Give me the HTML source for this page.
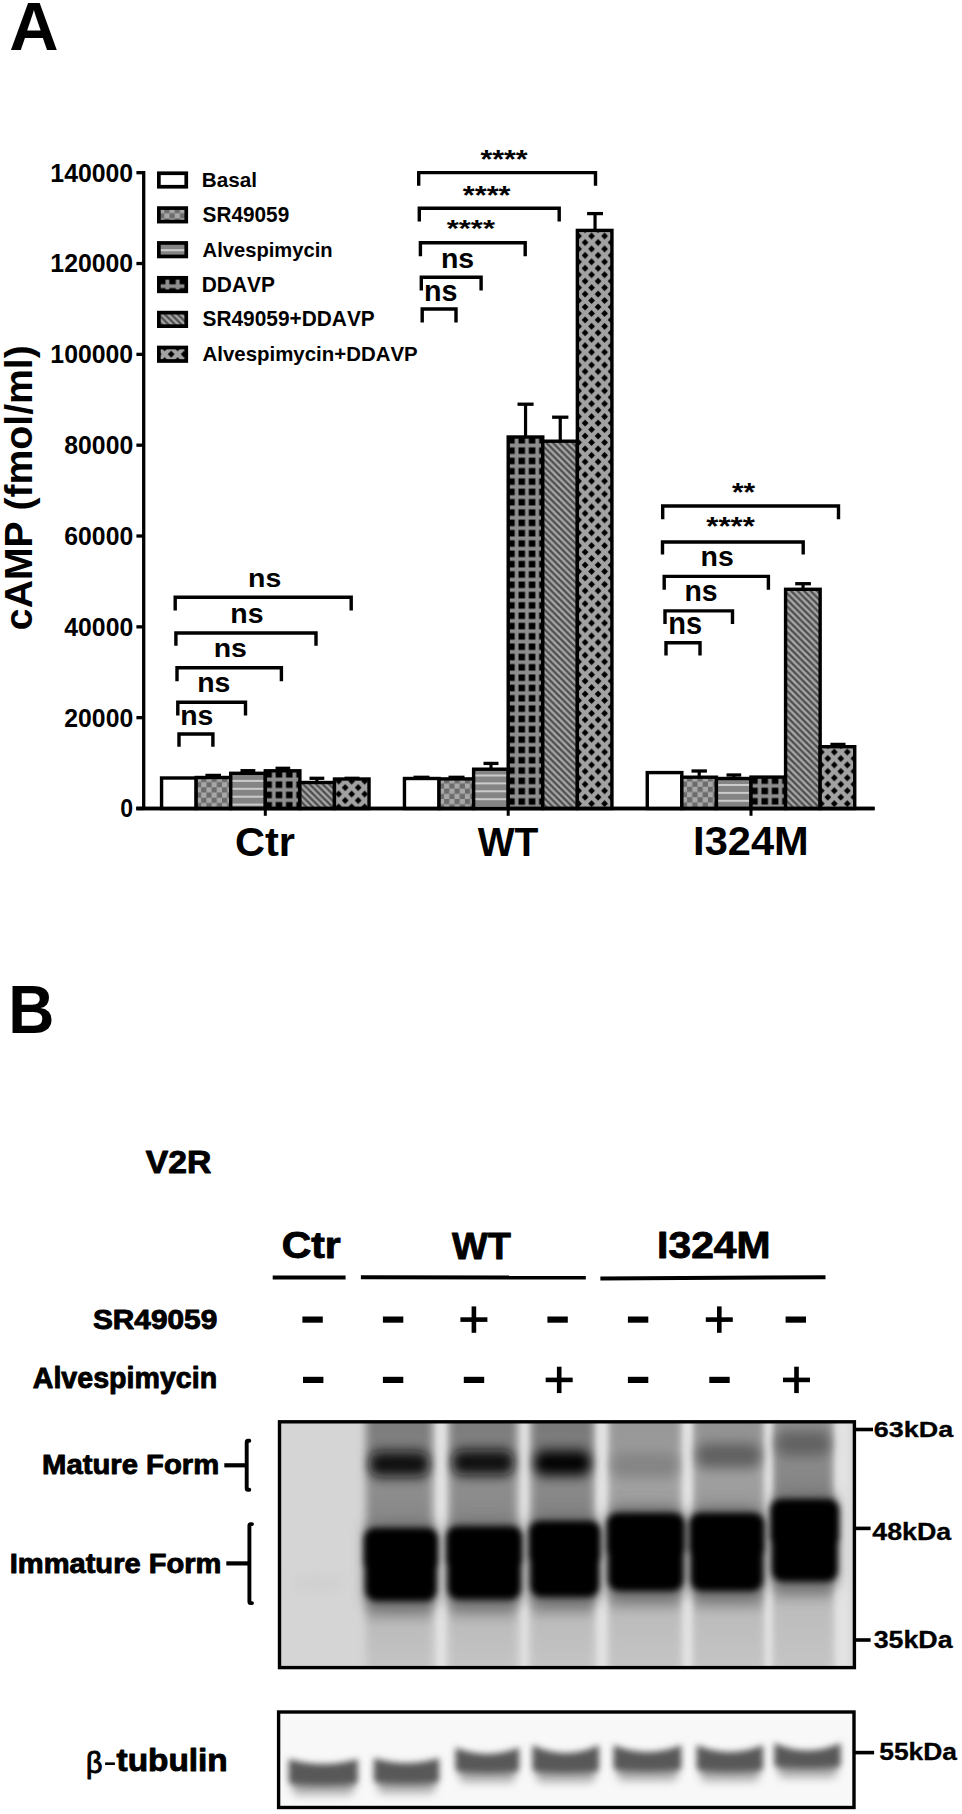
<!DOCTYPE html>
<html><head><meta charset="utf-8"><style>
html,body{margin:0;padding:0;background:#fff;overflow:hidden;}
svg{display:block;}
text{font-family:"Liberation Sans", sans-serif;font-kerning:none;}
</style></head><body>
<svg width="962" height="1814" viewBox="0 0 962 1814">
<defs>
<pattern id="pChk" patternUnits="userSpaceOnUse" width="10.4" height="10.4" x="0" y="0">
  <rect width="10.4" height="10.4" fill="#a7a7a7"/>
  <rect width="5.2" height="5.2" fill="#6c6c6c"/><rect x="5.2" y="5.2" width="5.2" height="5.2" fill="#6c6c6c"/>
</pattern>
<pattern id="pHor" patternUnits="userSpaceOnUse" width="10" height="7.9" x="0" y="0">
  <rect width="10" height="7.9" fill="#848484"/>
  <rect y="0" width="10" height="2.0" fill="#cbcbcb"/>
</pattern>
<pattern id="pGrid" patternUnits="userSpaceOnUse" width="10.32" height="10.32" x="0" y="0">
  <rect width="10.32" height="10.32" fill="#000"/>
  <rect x="3.26" width="3.8" height="10.32" fill="#8e8e8e"/>
  <rect y="3.26" width="10.32" height="3.8" fill="#8e8e8e"/>
</pattern>
<pattern id="pDiag" patternUnits="userSpaceOnUse" width="6.5" height="6.5" x="0" y="0">
  <rect width="6.5" height="6.5" fill="#a8a8a8"/>
  <path d="M-2,-2 L8.5,8.5 M-2,4.5 L2,8.5 M4.5,-2 L8.5,2" stroke="#4e4e4e" stroke-width="2.35"/>
</pattern>
<pattern id="pX" patternUnits="userSpaceOnUse" width="13.0" height="12.9" x="0" y="0">
  <rect width="13.0" height="12.9" fill="#a2a2a2"/>
  <path d="M0,-3.4 L3.4,0 L0,3.4 L-3.4,0Z M13.0,-3.4 L16.4,0 L13.0,3.4 L9.6,0Z M0,9.5 L3.4,12.9 L0,16.3 L-3.4,12.9Z M13.0,9.5 L16.4,12.9 L13.0,16.3 L9.6,12.9Z M6.5,3.0500000000000003 L9.9,6.45 L6.5,9.85 L3.1,6.45Z " fill="#000"/>
</pattern>
<pattern id="pGrid0" patternUnits="userSpaceOnUse" width="10.32" height="10.32" x="0.32" y="0.34">
  <rect width="10.32" height="10.32" fill="#000"/>
  <rect x="3.26" width="3.8" height="10.32" fill="#8e8e8e"/>
  <rect y="3.26" width="10.32" height="3.8" fill="#8e8e8e"/>
</pattern><pattern id="pGrid1" patternUnits="userSpaceOnUse" width="10.32" height="10.32" x="5.76" y="6.88">
  <rect width="10.32" height="10.32" fill="#000"/>
  <rect x="3.26" width="3.8" height="10.32" fill="#8e8e8e"/>
  <rect y="3.26" width="10.32" height="3.8" fill="#8e8e8e"/>
</pattern><pattern id="pGrid2" patternUnits="userSpaceOnUse" width="10.32" height="10.32" x="1.08" y="6.64">
  <rect width="10.32" height="10.32" fill="#000"/>
  <rect x="3.26" width="3.8" height="10.32" fill="#8e8e8e"/>
  <rect y="3.26" width="10.32" height="3.8" fill="#8e8e8e"/>
</pattern><pattern id="pX0" patternUnits="userSpaceOnUse" width="13.0" height="12.9" x="7.2" y="0.7">
  <rect width="13.0" height="12.9" fill="#a2a2a2"/>
  <path d="M0,-3.4 L3.4,0 L0,3.4 L-3.4,0Z M13.0,-3.4 L16.4,0 L13.0,3.4 L9.6,0Z M0,9.5 L3.4,12.9 L0,16.3 L-3.4,12.9Z M13.0,9.5 L16.4,12.9 L13.0,16.3 L9.6,12.9Z M6.5,3.0500000000000003 L9.9,6.45 L6.5,9.85 L3.1,6.45Z " fill="#000"/>
</pattern><pattern id="pX1" patternUnits="userSpaceOnUse" width="13.0" height="12.9" x="0.1" y="10.3">
  <rect width="13.0" height="12.9" fill="#a2a2a2"/>
  <path d="M0,-3.4 L3.4,0 L0,3.4 L-3.4,0Z M13.0,-3.4 L16.4,0 L13.0,3.4 L9.6,0Z M0,9.5 L3.4,12.9 L0,16.3 L-3.4,12.9Z M13.0,9.5 L16.4,12.9 L13.0,16.3 L9.6,12.9Z M6.5,3.0500000000000003 L9.9,6.45 L6.5,9.85 L3.1,6.45Z " fill="#000"/>
</pattern><pattern id="pX2" patternUnits="userSpaceOnUse" width="13.0" height="12.9" x="8.8" y="10.3">
  <rect width="13.0" height="12.9" fill="#a2a2a2"/>
  <path d="M0,-3.4 L3.4,0 L0,3.4 L-3.4,0Z M13.0,-3.4 L16.4,0 L13.0,3.4 L9.6,0Z M0,9.5 L3.4,12.9 L0,16.3 L-3.4,12.9Z M13.0,9.5 L16.4,12.9 L13.0,16.3 L9.6,12.9Z M6.5,3.0500000000000003 L9.9,6.45 L6.5,9.85 L3.1,6.45Z " fill="#000"/>
</pattern><pattern id="pHorL" patternUnits="userSpaceOnUse" width="10" height="7.9" x="0" y="4.3">
  <rect width="10" height="7.9" fill="#848484"/>
  <rect y="0" width="10" height="2.0" fill="#cbcbcb"/>
</pattern><pattern id="pHor0" patternUnits="userSpaceOnUse" width="10" height="7.9" x="0" y="5.7">
  <rect width="10" height="7.9" fill="#848484"/>
  <rect y="0" width="10" height="2.0" fill="#cbcbcb"/>
</pattern><pattern id="pHor1" patternUnits="userSpaceOnUse" width="10" height="7.9" x="0" y="0.3">
  <rect width="10" height="7.9" fill="#848484"/>
  <rect y="0" width="10" height="2.0" fill="#cbcbcb"/>
</pattern><pattern id="pHor2" patternUnits="userSpaceOnUse" width="10" height="7.9" x="0" y="1.9">
  <rect width="10" height="7.9" fill="#848484"/>
  <rect y="0" width="10" height="2.0" fill="#cbcbcb"/>
</pattern><pattern id="pChk0" patternUnits="userSpaceOnUse" width="10.4" height="10.4" x="3.6" y="7.3">
  <rect width="10.4" height="10.4" fill="#a7a7a7"/>
  <rect width="5.2" height="5.2" fill="#6c6c6c"/><rect x="5.2" y="5.2" width="5.2" height="5.2" fill="#6c6c6c"/>
</pattern><pattern id="pChk1" patternUnits="userSpaceOnUse" width="10.4" height="10.4" x="7.3" y="8.6">
  <rect width="10.4" height="10.4" fill="#a7a7a7"/>
  <rect width="5.2" height="5.2" fill="#6c6c6c"/><rect x="5.2" y="5.2" width="5.2" height="5.2" fill="#6c6c6c"/>
</pattern><pattern id="pChk2" patternUnits="userSpaceOnUse" width="10.4" height="10.4" x="0.7" y="6.8">
  <rect width="10.4" height="10.4" fill="#a7a7a7"/>
  <rect width="5.2" height="5.2" fill="#6c6c6c"/><rect x="5.2" y="5.2" width="5.2" height="5.2" fill="#6c6c6c"/>
</pattern><pattern id="pDiag0" patternUnits="userSpaceOnUse" width="6.5" height="6.5" x="0" y="0">
  <rect width="6.5" height="6.5" fill="#a8a8a8"/>
  <path d="M-2,-2 L8.5,8.5 M-2,4.5 L2,8.5 M4.5,-2 L8.5,2" stroke="#4e4e4e" stroke-width="2.35"/>
</pattern><pattern id="pDiag1" patternUnits="userSpaceOnUse" width="6.5" height="6.5" x="0" y="0.4">
  <rect width="6.5" height="6.5" fill="#a8a8a8"/>
  <path d="M-2,-2 L8.5,8.5 M-2,4.5 L2,8.5 M4.5,-2 L8.5,2" stroke="#4e4e4e" stroke-width="2.35"/>
</pattern><pattern id="pDiag2" patternUnits="userSpaceOnUse" width="6.5" height="6.5" x="0" y="1.3">
  <rect width="6.5" height="6.5" fill="#a8a8a8"/>
  <path d="M-2,-2 L8.5,8.5 M-2,4.5 L2,8.5 M4.5,-2 L8.5,2" stroke="#4e4e4e" stroke-width="2.35"/>
</pattern><pattern id="pGridL" patternUnits="userSpaceOnUse" width="10.32" height="10.32" x="7.44" y="2.4">
  <rect width="10.32" height="10.32" fill="#000"/>
  <rect x="3.26" width="3.8" height="10.32" fill="#8e8e8e"/>
  <rect y="3.26" width="10.32" height="3.8" fill="#8e8e8e"/>
</pattern><pattern id="pXL" patternUnits="userSpaceOnUse" width="13.0" height="12.9" x="2.2" y="5.9">
  <rect width="13.0" height="12.9" fill="#a2a2a2"/>
  <path d="M0,-3.4 L3.4,0 L0,3.4 L-3.4,0Z M13.0,-3.4 L16.4,0 L13.0,3.4 L9.6,0Z M0,9.5 L3.4,12.9 L0,16.3 L-3.4,12.9Z M13.0,9.5 L16.4,12.9 L13.0,16.3 L9.6,12.9Z M6.5,3.0500000000000003 L9.9,6.45 L6.5,9.85 L3.1,6.45Z " fill="#000"/>
</pattern><pattern id="pChkL" patternUnits="userSpaceOnUse" width="10.4" height="10.4" x="8.3" y="0">
  <rect width="10.4" height="10.4" fill="#a7a7a7"/>
  <rect width="5.2" height="5.2" fill="#6c6c6c"/><rect x="5.2" y="5.2" width="5.2" height="5.2" fill="#6c6c6c"/>
</pattern>
<filter id="fSmear" x="-20%" y="-20%" width="140%" height="140%"><feGaussianBlur stdDeviation="4.5 3"/></filter>
<filter id="fGap" x="-100%" y="-10%" width="300%" height="120%"><feGaussianBlur stdDeviation="2.5 1"/></filter>
<filter id="fHalo" x="-30%" y="-30%" width="160%" height="160%"><feGaussianBlur stdDeviation="7"/></filter>
<filter id="fMat" x="-30%" y="-100%" width="160%" height="300%"><feGaussianBlur stdDeviation="5.5 6.5"/></filter>
<filter id="fImm" x="-20%" y="-20%" width="140%" height="140%"><feGaussianBlur stdDeviation="3.2"/></filter>
<filter id="fTub" x="-20%" y="-100%" width="140%" height="300%"><feGaussianBlur stdDeviation="3 3.4"/></filter>
<filter id="fTubTail" x="-20%" y="-100%" width="140%" height="300%"><feGaussianBlur stdDeviation="4 5"/></filter>
<linearGradient id="gL0" x1="0" y1="0" x2="0" y2="1"><stop offset="0.0000" stop-color="rgb(124,124,124)"/><stop offset="0.1211" stop-color="rgb(128,128,128)"/><stop offset="0.2716" stop-color="rgb(142,142,142)"/><stop offset="0.3807" stop-color="rgb(138,138,138)"/><stop offset="0.7419" stop-color="rgb(150,150,150)"/><stop offset="0.8059" stop-color="rgb(188,188,188)"/><stop offset="1.0000" stop-color="rgb(198,198,198)"/></linearGradient><linearGradient id="gL1" x1="0" y1="0" x2="0" y2="1"><stop offset="0.0000" stop-color="rgb(124,124,124)"/><stop offset="0.1155" stop-color="rgb(128,128,128)"/><stop offset="0.2660" stop-color="rgb(142,142,142)"/><stop offset="0.3740" stop-color="rgb(138,138,138)"/><stop offset="0.7363" stop-color="rgb(150,150,150)"/><stop offset="0.8002" stop-color="rgb(188,188,188)"/><stop offset="1.0000" stop-color="rgb(198,198,198)"/></linearGradient><linearGradient id="gL2" x1="0" y1="0" x2="0" y2="1"><stop offset="0.0000" stop-color="rgb(120,120,120)"/><stop offset="0.1174" stop-color="rgb(124,124,124)"/><stop offset="0.2679" stop-color="rgb(138,138,138)"/><stop offset="0.3544" stop-color="rgb(134,134,134)"/><stop offset="0.7269" stop-color="rgb(150,150,150)"/><stop offset="0.7908" stop-color="rgb(188,188,188)"/><stop offset="1.0000" stop-color="rgb(198,198,198)"/></linearGradient><linearGradient id="gL3" x1="0" y1="0" x2="0" y2="1"><stop offset="0.0000" stop-color="rgb(150,150,150)"/><stop offset="0.1249" stop-color="rgb(154,154,154)"/><stop offset="0.2754" stop-color="rgb(162,162,162)"/><stop offset="0.3243" stop-color="rgb(158,158,158)"/><stop offset="0.7043" stop-color="rgb(150,150,150)"/><stop offset="0.7682" stop-color="rgb(188,188,188)"/><stop offset="1.0000" stop-color="rgb(198,198,198)"/></linearGradient><linearGradient id="gL4" x1="0" y1="0" x2="0" y2="1"><stop offset="0.0000" stop-color="rgb(145,145,145)"/><stop offset="0.0892" stop-color="rgb(149,149,149)"/><stop offset="0.2397" stop-color="rgb(160,160,160)"/><stop offset="0.3243" stop-color="rgb(156,156,156)"/><stop offset="0.7043" stop-color="rgb(150,150,150)"/><stop offset="0.7682" stop-color="rgb(188,188,188)"/><stop offset="1.0000" stop-color="rgb(198,198,198)"/></linearGradient><linearGradient id="gL5" x1="0" y1="0" x2="0" y2="1"><stop offset="0.0000" stop-color="rgb(140,140,140)"/><stop offset="0.0440" stop-color="rgb(144,144,144)"/><stop offset="0.1945" stop-color="rgb(138,138,138)"/><stop offset="0.2716" stop-color="rgb(134,134,134)"/><stop offset="0.6685" stop-color="rgb(150,150,150)"/><stop offset="0.7325" stop-color="rgb(188,188,188)"/><stop offset="1.0000" stop-color="rgb(198,198,198)"/></linearGradient></defs>
<rect width="962" height="1814" fill="#fff"/>
<clipPath id="cBlot"><rect x="279.5" y="1421.8" width="574.9" height="245.79999999999995"/></clipPath>
<rect x="279.5" y="1421.8" width="574.9" height="245.79999999999995" fill="#d5d5d5"/>
<g clip-path="url(#cBlot)">
<g filter="url(#fSmear)">
<rect x="366.0" y="1411.8" width="66.5" height="265.79999999999995" fill="url(#gL0)"/>
<rect x="449.0" y="1411.8" width="68.0" height="265.79999999999995" fill="url(#gL1)"/>
<rect x="531.0" y="1411.8" width="63.0" height="265.79999999999995" fill="url(#gL2)"/>
<rect x="608.5" y="1411.8" width="72.5" height="265.79999999999995" fill="url(#gL3)"/>
<rect x="693.0" y="1411.8" width="71.0" height="265.79999999999995" fill="url(#gL4)"/>
<rect x="772.7" y="1411.8" width="60.299999999999955" height="265.79999999999995" fill="url(#gL5)"/>
</g>
<g filter="url(#fGap)">
<rect x="437.0" y="1411.8" width="8" height="265.79999999999995" fill="#e2e2e2"/>
<rect x="522.0" y="1411.8" width="5" height="265.79999999999995" fill="#e2e2e2"/>
<rect x="597.5" y="1411.8" width="9" height="265.79999999999995" fill="#e2e2e2"/>
<rect x="683.5" y="1411.8" width="8" height="265.79999999999995" fill="#e2e2e2"/>
<rect x="765.5" y="1411.8" width="6" height="265.79999999999995" fill="#e2e2e2"/>
<rect x="836.0" y="1411.8" width="14" height="265.79999999999995" fill="#e2e2e2"/>
</g>
<g filter="url(#fHalo)">
<rect x="366.0" y="1522.0" width="70.0" height="87.0" rx="12" fill="#6a6a6a"/>
<rect x="448.4" y="1520.2" width="71.80000000000007" height="87.29999999999995" rx="12" fill="#6a6a6a"/>
<rect x="531.0" y="1515.0" width="67.5" height="90.0" rx="12" fill="#6a6a6a"/>
<rect x="608.8" y="1507.0" width="73.90000000000009" height="92.0" rx="12" fill="#6a6a6a"/>
<rect x="691.4" y="1507.0" width="70.80000000000007" height="92.0" rx="12" fill="#6a6a6a"/>
<rect x="772.5" y="1493.0" width="64.5" height="96.5" rx="12" fill="#6a6a6a"/>
</g>
<g filter="url(#fMat)">
<rect x="369.0" y="1451.5" width="60.5" height="25" rx="11" fill="#101010"/>
<rect x="452.0" y="1450.0" width="62.0" height="25" rx="11" fill="#0e0e0e"/>
<rect x="534.0" y="1450.5" width="57.0" height="25" rx="11" fill="#000000"/>
<rect x="611.5" y="1452.5" width="66.5" height="25" rx="11" fill="#848484"/>
<rect x="696.0" y="1443.0" width="65.0" height="25" rx="11" fill="#606060"/>
<rect x="775.7" y="1431.0" width="54.299999999999955" height="25" rx="11" fill="#626262"/>
</g>
<g filter="url(#fImm)">
<rect x="364.0" y="1528.0" width="74.0" height="44.5" rx="11" fill="#000"/>
<rect x="365.5" y="1556.5" width="71.0" height="44.5" rx="11" fill="#000"/>
<rect x="446.4" y="1526.2" width="75.80000000000007" height="44.649999999999864" rx="11" fill="#000"/>
<rect x="447.9" y="1554.85" width="72.80000000000007" height="44.65000000000009" rx="11" fill="#000"/>
<rect x="529.0" y="1521.0" width="71.5" height="46.0" rx="11" fill="#000"/>
<rect x="530.5" y="1551.0" width="68.5" height="46.0" rx="11" fill="#000"/>
<rect x="606.8" y="1513.0" width="77.90000000000009" height="47.0" rx="11" fill="#000"/>
<rect x="608.3" y="1544.0" width="74.90000000000009" height="47.0" rx="11" fill="#000"/>
<rect x="689.4" y="1513.0" width="74.80000000000007" height="47.0" rx="11" fill="#000"/>
<rect x="690.9" y="1544.0" width="71.80000000000007" height="47.0" rx="11" fill="#000"/>
<rect x="770.5" y="1499.0" width="68.5" height="49.25" rx="11" fill="#000"/>
<rect x="772.0" y="1532.25" width="65.5" height="49.25" rx="11" fill="#000"/>
</g>
<ellipse cx="318" cy="1583" rx="28" ry="5" fill="#cdcdcd" filter="url(#fMat)"/>
</g>
<rect x="279.5" y="1421.8" width="574.9" height="245.79999999999995" fill="none" stroke="#000" stroke-width="3.4"/>
<clipPath id="cTub"><rect x="278.6" y="1712.0" width="575.4" height="95.5"/></clipPath>
<rect x="278.6" y="1712.0" width="575.4" height="95.5" fill="#f8f8f8"/>
<g clip-path="url(#cTub)">
<g filter="url(#fTubTail)">
<rect x="292.2" y="1776.5" width="62.10000000000002" height="18" rx="6" fill="#a8a8a8"/>
<rect x="377.3" y="1775.0" width="58.39999999999998" height="18" rx="6" fill="#a8a8a8"/>
<rect x="458.9" y="1764.0" width="56.80000000000007" height="18" rx="6" fill="#a8a8a8"/>
<rect x="535.9" y="1764.0" width="59.60000000000002" height="18" rx="6" fill="#a8a8a8"/>
<rect x="617.0" y="1762.5" width="60.89999999999998" height="18" rx="6" fill="#a8a8a8"/>
<rect x="700.1" y="1763.0" width="59.5" height="18" rx="6" fill="#a8a8a8"/>
<rect x="777.8" y="1759.5" width="59.40000000000009" height="18" rx="6" fill="#a8a8a8"/>
</g>
<g filter="url(#fTub)">
<path d="M288.7,1759.0 Q323.25,1769.0 357.8,1759.0 L357.8,1779.5 Q357.8,1784.5 351.8,1784.5 Q323.25,1786.5 294.7,1784.5 Q288.7,1784.5 288.7,1779.5 Z" fill="#585858"/>
<path d="M373.8,1758.0 Q406.5,1768.0 439.2,1758.0 L439.2,1778.0 Q439.2,1783.0 433.2,1783.0 Q406.5,1785.0 379.8,1783.0 Q373.8,1783.0 373.8,1778.0 Z" fill="#585858"/>
<path d="M455.4,1747.5 Q487.3,1760.5 519.2,1747.5 L519.2,1767.0 Q519.2,1772.0 513.2,1772.0 Q487.3,1774.0 461.4,1772.0 Q455.4,1772.0 455.4,1767.0 Z" fill="#585858"/>
<path d="M532.4,1745.0 Q565.7,1761.0 599.0,1745.0 L599.0,1767.0 Q599.0,1772.0 593.0,1772.0 Q565.7,1774.0 538.4,1772.0 Q532.4,1772.0 532.4,1767.0 Z" fill="#585858"/>
<path d="M613.5,1745.0 Q647.45,1759.0 681.4,1745.0 L681.4,1765.5 Q681.4,1770.5 675.4,1770.5 Q647.45,1772.5 619.5,1770.5 Q613.5,1770.5 613.5,1765.5 Z" fill="#585858"/>
<path d="M696.6,1745.0 Q729.85,1759.0 763.1,1745.0 L763.1,1766.0 Q763.1,1771.0 757.1,1771.0 Q729.85,1773.0 702.6,1771.0 Q696.6,1771.0 696.6,1766.0 Z" fill="#585858"/>
<path d="M774.3,1743.0 Q807.5,1758.0 840.7,1743.0 L840.7,1762.5 Q840.7,1767.5 834.7,1767.5 Q807.5,1769.5 780.3,1767.5 Q774.3,1767.5 774.3,1762.5 Z" fill="#585858"/>
</g>
</g>
<rect x="278.6" y="1712.0" width="575.4" height="95.5" fill="none" stroke="#000" stroke-width="3.4"/>
<text transform="translate(9.20,49.90) scale(0.9972,1)" font-size="68.46" font-weight="bold" fill="#000" >A</text>
<line x1="143.7" y1="171.1" x2="143.7" y2="810.1" stroke="#000" stroke-width="3.3"/>
<line x1="136.4" y1="808.5" x2="874.6" y2="808.5" stroke="#000" stroke-width="3.6"/>
<line x1="136.4" y1="808.50" x2="143.7" y2="808.50" stroke="#000" stroke-width="3.3"/>
<text transform="translate(120.33,817.35) scale(0.9115,1)" font-size="25.28" font-weight="bold" fill="#000" >0</text>
<line x1="136.4" y1="717.67" x2="143.7" y2="717.67" stroke="#000" stroke-width="3.3"/>
<text transform="translate(64.31,726.52) scale(0.9801,1)" font-size="25.28" font-weight="bold" fill="#000" >20000</text>
<line x1="136.4" y1="626.84" x2="143.7" y2="626.84" stroke="#000" stroke-width="3.3"/>
<text transform="translate(64.31,635.70) scale(0.9802,1)" font-size="25.28" font-weight="bold" fill="#000" >40000</text>
<line x1="136.4" y1="536.01" x2="143.7" y2="536.01" stroke="#000" stroke-width="3.3"/>
<text transform="translate(64.32,544.87) scale(0.9800,1)" font-size="25.28" font-weight="bold" fill="#000" >60000</text>
<line x1="136.4" y1="445.19" x2="143.7" y2="445.19" stroke="#000" stroke-width="3.3"/>
<text transform="translate(64.31,454.04) scale(0.9801,1)" font-size="25.28" font-weight="bold" fill="#000" >80000</text>
<line x1="136.4" y1="354.36" x2="143.7" y2="354.36" stroke="#000" stroke-width="3.3"/>
<text transform="translate(50.34,363.21) scale(0.9824,1)" font-size="25.28" font-weight="bold" fill="#000" >100000</text>
<line x1="136.4" y1="263.53" x2="143.7" y2="263.53" stroke="#000" stroke-width="3.3"/>
<text transform="translate(50.34,272.38) scale(0.9824,1)" font-size="25.28" font-weight="bold" fill="#000" >120000</text>
<line x1="136.4" y1="172.70" x2="143.7" y2="172.70" stroke="#000" stroke-width="3.3"/>
<text transform="translate(50.34,181.55) scale(0.9824,1)" font-size="25.28" font-weight="bold" fill="#000" >140000</text>
<line x1="265.3" y1="808.5" x2="265.3" y2="815.8" stroke="#000" stroke-width="3"/>
<line x1="508.2" y1="808.5" x2="508.2" y2="815.8" stroke="#000" stroke-width="3"/>
<line x1="751.0" y1="808.5" x2="751.0" y2="815.8" stroke="#000" stroke-width="3"/>
<g transform="translate(31.7,628.6) rotate(-90)"><text transform="translate(-1.53,0.00) scale(0.9921,1)" font-size="39.47" font-weight="bold" fill="#000" >cAMP (fmol/ml)</text></g>
<text transform="translate(234.90,855.71) scale(1.0290,1)" font-size="40.40" font-weight="bold" fill="#000" >Ctr</text>
<text transform="translate(477.66,855.90) scale(0.9568,1)" font-size="40.84" font-weight="bold" fill="#000" >WT</text>
<text transform="translate(693.12,855.25) scale(1.0433,1)" font-size="39.89" font-weight="bold" fill="#000" >I324M</text>
<rect x="158.85" y="173.25" width="27.399999999999995" height="13.5" fill="#fff" stroke="#000" stroke-width="3.7"/>
<text transform="translate(201.71,187.00) scale(0.9936,1)" font-size="20.84" font-weight="bold" fill="#000" >Basal</text>
<rect x="158.85" y="208.10" width="27.399999999999995" height="13.5" fill="url(#pChkL)" stroke="#000" stroke-width="3.7"/>
<text transform="translate(202.50,221.85) scale(0.9622,1)" font-size="21.63" font-weight="bold" fill="#000" >SR49059</text>
<rect x="158.85" y="242.95" width="27.399999999999995" height="13.5" fill="url(#pHorL)" stroke="#000" stroke-width="3.7"/>
<text transform="translate(202.60,256.70) scale(0.9672,1)" font-size="20.84" font-weight="bold" fill="#000" >Alvespimycin</text>
<rect x="158.85" y="277.80" width="27.399999999999995" height="13.5" fill="url(#pGridL)" stroke="#000" stroke-width="3.7"/>
<text transform="translate(201.70,291.55) scale(0.9529,1)" font-size="21.95" font-weight="bold" fill="#000" >DDAVP</text>
<rect x="158.85" y="312.65" width="27.399999999999995" height="13.5" fill="url(#pDiag)" stroke="#000" stroke-width="3.7"/>
<text transform="translate(202.50,326.40) scale(0.9647,1)" font-size="21.63" font-weight="bold" fill="#000" >SR49059+DDAVP</text>
<rect x="158.85" y="347.50" width="27.399999999999995" height="13.5" fill="url(#pXL)" stroke="#000" stroke-width="3.7"/>
<text transform="translate(202.59,361.25) scale(0.9801,1)" font-size="20.84" font-weight="bold" fill="#000" >Alvespimycin+DDAVP</text>
<rect x="161.56" y="778.00" width="34.58" height="30.50" fill="#fff" stroke="#000" stroke-width="3.4"/>
<line x1="213.20" y1="775.40" x2="213.20" y2="777.50" stroke="#000" stroke-width="3.2"/>
<line x1="205.40" y1="775.40" x2="221.00" y2="775.40" stroke="#000" stroke-width="3.3"/>
<rect x="196.14" y="777.50" width="34.58" height="31.00" fill="url(#pChk0)" stroke="#000" stroke-width="3.4"/>
<line x1="247.90" y1="770.70" x2="247.90" y2="773.30" stroke="#000" stroke-width="3.2"/>
<line x1="240.50" y1="770.70" x2="255.30" y2="770.70" stroke="#000" stroke-width="3.3"/>
<rect x="230.72" y="773.30" width="34.58" height="35.20" fill="url(#pHor0)" stroke="#000" stroke-width="3.4"/>
<line x1="282.85" y1="768.30" x2="282.85" y2="770.80" stroke="#000" stroke-width="3.2"/>
<line x1="275.50" y1="768.30" x2="290.20" y2="768.30" stroke="#000" stroke-width="3.3"/>
<rect x="265.30" y="770.80" width="34.58" height="37.70" fill="url(#pGrid0)" stroke="#000" stroke-width="3.4"/>
<line x1="316.90" y1="778.30" x2="316.90" y2="782.50" stroke="#000" stroke-width="3.2"/>
<line x1="309.50" y1="778.30" x2="324.30" y2="778.30" stroke="#000" stroke-width="3.3"/>
<rect x="299.88" y="782.50" width="34.58" height="26.00" fill="url(#pDiag0)" stroke="#000" stroke-width="3.4"/>
<line x1="352.00" y1="778.30" x2="352.00" y2="779.00" stroke="#000" stroke-width="3.2"/>
<line x1="344.50" y1="778.30" x2="359.50" y2="778.30" stroke="#000" stroke-width="3.3"/>
<rect x="334.46" y="779.00" width="34.58" height="29.50" fill="url(#pX0)" stroke="#000" stroke-width="3.4"/>
<line x1="421.50" y1="777.30" x2="421.50" y2="778.50" stroke="#000" stroke-width="3.2"/>
<line x1="413.50" y1="777.30" x2="429.50" y2="777.30" stroke="#000" stroke-width="3.3"/>
<rect x="404.46" y="778.50" width="34.58" height="30.00" fill="#fff" stroke="#000" stroke-width="3.4"/>
<line x1="456.50" y1="777.30" x2="456.50" y2="778.90" stroke="#000" stroke-width="3.2"/>
<line x1="448.50" y1="777.30" x2="464.50" y2="777.30" stroke="#000" stroke-width="3.3"/>
<rect x="439.04" y="778.90" width="34.58" height="29.60" fill="url(#pChk1)" stroke="#000" stroke-width="3.4"/>
<line x1="491.00" y1="763.40" x2="491.00" y2="769.20" stroke="#000" stroke-width="3.2"/>
<line x1="483.50" y1="763.40" x2="498.50" y2="763.40" stroke="#000" stroke-width="3.3"/>
<rect x="473.62" y="769.20" width="34.58" height="39.30" fill="url(#pHor1)" stroke="#000" stroke-width="3.4"/>
<line x1="525.55" y1="404.20" x2="525.55" y2="437.00" stroke="#000" stroke-width="3.2"/>
<line x1="517.50" y1="404.20" x2="533.60" y2="404.20" stroke="#000" stroke-width="3.3"/>
<rect x="508.20" y="437.00" width="34.58" height="371.50" fill="url(#pGrid1)" stroke="#000" stroke-width="3.4"/>
<line x1="560.25" y1="417.20" x2="560.25" y2="441.20" stroke="#000" stroke-width="3.2"/>
<line x1="552.10" y1="417.20" x2="568.40" y2="417.20" stroke="#000" stroke-width="3.3"/>
<rect x="542.78" y="441.20" width="34.58" height="367.30" fill="url(#pDiag1)" stroke="#000" stroke-width="3.4"/>
<line x1="595.05" y1="213.60" x2="595.05" y2="230.40" stroke="#000" stroke-width="3.2"/>
<line x1="587.10" y1="213.60" x2="603.00" y2="213.60" stroke="#000" stroke-width="3.3"/>
<rect x="577.36" y="230.40" width="34.58" height="578.10" fill="url(#pX1)" stroke="#000" stroke-width="3.4"/>
<rect x="647.26" y="772.60" width="34.58" height="35.90" fill="#fff" stroke="#000" stroke-width="3.4"/>
<line x1="699.20" y1="771.00" x2="699.20" y2="777.20" stroke="#000" stroke-width="3.2"/>
<line x1="691.50" y1="771.00" x2="706.90" y2="771.00" stroke="#000" stroke-width="3.3"/>
<rect x="681.84" y="777.20" width="34.58" height="31.30" fill="url(#pChk2)" stroke="#000" stroke-width="3.4"/>
<line x1="733.85" y1="775.00" x2="733.85" y2="778.50" stroke="#000" stroke-width="3.2"/>
<line x1="726.50" y1="775.00" x2="741.20" y2="775.00" stroke="#000" stroke-width="3.3"/>
<rect x="716.42" y="778.50" width="34.58" height="30.00" fill="url(#pHor2)" stroke="#000" stroke-width="3.4"/>
<rect x="751.00" y="777.10" width="34.58" height="31.40" fill="url(#pGrid2)" stroke="#000" stroke-width="3.4"/>
<line x1="803.05" y1="583.70" x2="803.05" y2="589.30" stroke="#000" stroke-width="3.2"/>
<line x1="795.20" y1="583.70" x2="810.90" y2="583.70" stroke="#000" stroke-width="3.3"/>
<rect x="785.58" y="589.30" width="34.58" height="219.20" fill="url(#pDiag2)" stroke="#000" stroke-width="3.4"/>
<line x1="837.95" y1="744.40" x2="837.95" y2="746.70" stroke="#000" stroke-width="3.2"/>
<line x1="830.40" y1="744.40" x2="845.50" y2="744.40" stroke="#000" stroke-width="3.3"/>
<rect x="820.16" y="746.70" width="34.58" height="61.80" fill="url(#pX2)" stroke="#000" stroke-width="3.4"/>
<line x1="136.4" y1="808.5" x2="874.6" y2="808.5" stroke="#000" stroke-width="3.6"/>
<path d="M175.20,610.40 V597.20 H351.20 V610.40" fill="none" stroke="#000" stroke-width="3.4" stroke-linejoin="miter"/>
<path d="M175.90,645.70 V633.00 H316.00 V645.70" fill="none" stroke="#000" stroke-width="3.4" stroke-linejoin="miter"/>
<path d="M177.00,681.20 V667.80 H281.40 V681.20" fill="none" stroke="#000" stroke-width="3.4" stroke-linejoin="miter"/>
<path d="M177.80,715.60 V702.20 H245.50 V715.60" fill="none" stroke="#000" stroke-width="3.4" stroke-linejoin="miter"/>
<path d="M179.00,746.70 V734.00 H212.90 V746.70" fill="none" stroke="#000" stroke-width="3.4" stroke-linejoin="miter"/>
<path d="M418.70,185.80 V172.60 H595.50 V185.80" fill="none" stroke="#000" stroke-width="3.4" stroke-linejoin="miter"/>
<path d="M419.30,221.40 V208.30 H559.20 V221.40" fill="none" stroke="#000" stroke-width="3.4" stroke-linejoin="miter"/>
<path d="M420.40,256.20 V242.70 H525.20 V256.20" fill="none" stroke="#000" stroke-width="3.4" stroke-linejoin="miter"/>
<path d="M421.30,290.60 V277.20 H481.10 V290.60" fill="none" stroke="#000" stroke-width="3.4" stroke-linejoin="miter"/>
<path d="M422.20,322.40 V309.00 H456.00 V322.40" fill="none" stroke="#000" stroke-width="3.4" stroke-linejoin="miter"/>
<path d="M662.70,519.30 V506.00 H838.50 V519.30" fill="none" stroke="#000" stroke-width="3.4" stroke-linejoin="miter"/>
<path d="M662.50,554.60 V542.00 H803.20 V554.60" fill="none" stroke="#000" stroke-width="3.4" stroke-linejoin="miter"/>
<path d="M664.20,589.70 V576.40 H768.40 V589.70" fill="none" stroke="#000" stroke-width="3.4" stroke-linejoin="miter"/>
<path d="M665.00,624.10 V610.90 H732.50 V624.10" fill="none" stroke="#000" stroke-width="3.4" stroke-linejoin="miter"/>
<path d="M666.00,655.60 V642.70 H700.00 V655.60" fill="none" stroke="#000" stroke-width="3.4" stroke-linejoin="miter"/>
<text transform="translate(248.02,587.24) scale(1.0774,1)" font-size="26.44" font-weight="bold" fill="#000" >ns</text>
<text transform="translate(230.32,622.62) scale(1.0014,1)" font-size="28.45" font-weight="bold" fill="#000" >ns</text>
<text transform="translate(213.72,656.94) scale(1.0700,1)" font-size="26.63" font-weight="bold" fill="#000" >ns</text>
<text transform="translate(197.13,692.22) scale(0.9981,1)" font-size="28.45" font-weight="bold" fill="#000" >ns</text>
<text transform="translate(180.23,724.93) scale(1.0243,1)" font-size="27.72" font-weight="bold" fill="#000" >ns</text>
<text transform="translate(480.41,168.37) scale(1.1880,1)" font-size="25.53" font-weight="bold" fill="#000" >****</text>
<text transform="translate(462.81,203.80) scale(1.2265,1)" font-size="25.00" font-weight="bold" fill="#000" >****</text>
<text transform="translate(446.81,237.31) scale(1.2502,1)" font-size="24.73" font-weight="bold" fill="#000" >****</text>
<text transform="translate(440.92,268.43) scale(1.0144,1)" font-size="28.08" font-weight="bold" fill="#000" >ns</text>
<text transform="translate(424.01,300.72) scale(0.9890,1)" font-size="29.00" font-weight="bold" fill="#000" >ns</text>
<text transform="translate(731.91,501.35) scale(1.1511,1)" font-size="25.80" font-weight="bold" fill="#000" >**</text>
<text transform="translate(706.31,534.50) scale(1.2445,1)" font-size="25.00" font-weight="bold" fill="#000" >****</text>
<text transform="translate(700.62,565.94) scale(1.0627,1)" font-size="26.81" font-weight="bold" fill="#000" >ns</text>
<text transform="translate(684.43,601.41) scale(0.9552,1)" font-size="29.73" font-weight="bold" fill="#000" >ns</text>
<text transform="translate(668.18,633.80) scale(0.9372,1)" font-size="31.00" font-weight="bold" fill="#000" >ns</text>
<text transform="translate(8.22,1032.70) scale(0.9401,1)" font-size="68.02" font-weight="bold" fill="#000" >B</text>
<text transform="translate(145.82,1172.85) scale(1.0690,1)" font-size="31.51" font-weight="bold" fill="#000"  stroke="#000" stroke-width="0.9" stroke-linejoin="round">V2R</text>
<text transform="translate(281.77,1257.99) scale(1.1165,1)" font-size="36.58" font-weight="bold" fill="#000"  stroke="#000" stroke-width="0.9" stroke-linejoin="round">Ctr</text>
<text transform="translate(452.11,1258.55) scale(1.0172,1)" font-size="37.21" font-weight="bold" fill="#000"  stroke="#000" stroke-width="0.9" stroke-linejoin="round">WT</text>
<text transform="translate(657.12,1258.13) scale(1.0848,1)" font-size="37.63" font-weight="bold" fill="#000"  stroke="#000" stroke-width="0.9" stroke-linejoin="round">I324M</text>
<line x1="272.7" y1="1277.4" x2="345.6" y2="1277.4" stroke="#000" stroke-width="4.0"/>
<line x1="360.9" y1="1277.3" x2="585.8" y2="1277.5" stroke="#000" stroke-width="4.0"/>
<line x1="600.4" y1="1278.4" x2="825.5" y2="1277.3" stroke="#000" stroke-width="4.0"/>
<text transform="translate(92.89,1329.45) scale(1.1086,1)" font-size="26.92" font-weight="bold" fill="#000"  stroke="#000" stroke-width="0.9" stroke-linejoin="round">SR49059</text>
<text transform="translate(32.74,1387.65) scale(0.9827,1)" font-size="29.12" font-weight="bold" fill="#000"  stroke="#000" stroke-width="0.9" stroke-linejoin="round">Alvespimycin</text>
<rect x="302.40" y="1316.50" width="20.4" height="6.2" fill="#000"/>
<rect x="382.90" y="1316.50" width="20.4" height="6.2" fill="#000"/>
<rect x="460.40" y="1317.30" width="27" height="4.6" fill="#000"/>
<rect x="471.60" y="1306.40" width="4.6" height="26.4" fill="#000"/>
<rect x="547.40" y="1316.50" width="20.4" height="6.2" fill="#000"/>
<rect x="627.90" y="1316.50" width="20.4" height="6.2" fill="#000"/>
<rect x="705.80" y="1317.30" width="27" height="4.6" fill="#000"/>
<rect x="717.00" y="1306.40" width="4.6" height="26.4" fill="#000"/>
<rect x="785.60" y="1316.50" width="20.4" height="6.2" fill="#000"/>
<rect x="303.00" y="1376.80" width="20.4" height="6.2" fill="#000"/>
<rect x="382.90" y="1376.80" width="20.4" height="6.2" fill="#000"/>
<rect x="463.80" y="1376.80" width="20.4" height="6.2" fill="#000"/>
<rect x="545.70" y="1377.60" width="27" height="4.6" fill="#000"/>
<rect x="556.90" y="1366.70" width="4.6" height="26.4" fill="#000"/>
<rect x="627.90" y="1376.80" width="20.4" height="6.2" fill="#000"/>
<rect x="709.30" y="1376.80" width="20.4" height="6.2" fill="#000"/>
<rect x="783.00" y="1377.60" width="27" height="4.6" fill="#000"/>
<rect x="794.20" y="1366.70" width="4.6" height="26.4" fill="#000"/>
<text transform="translate(42.09,1474.15) scale(1.0428,1)" font-size="28.05" font-weight="bold" fill="#000"  stroke="#000" stroke-width="0.9" stroke-linejoin="round">Mature Form</text>
<text transform="translate(9.70,1573.15) scale(1.0707,1)" font-size="27.18" font-weight="bold" fill="#000"  stroke="#000" stroke-width="0.9" stroke-linejoin="round">Immature Form</text>
<path d="M249.3,1440.8 H247.9 Q246.7,1440.8 246.7,1442.4 V1488.2 Q246.7,1489.8 247.9,1489.8 H249.3" fill="none" stroke="#000" stroke-width="3.9" stroke-linecap="round"/>
<line x1="224.3" y1="1465.3" x2="246.7" y2="1465.3" stroke="#000" stroke-width="4.2"/>
<path d="M252.0,1524.1 H250.6 Q249.4,1524.1 249.4,1525.7 V1601.5 Q249.4,1603.1 250.6,1603.1 H252.0" fill="none" stroke="#000" stroke-width="3.9" stroke-linecap="round"/>
<line x1="226.3" y1="1563.4" x2="249.4" y2="1563.4" stroke="#000" stroke-width="4.2"/>
<text transform="translate(85.92,1772.58) scale(0.9668,1)" font-size="29.50" font-weight="normal" fill="#000"  stroke="#000" stroke-width="1.0" stroke-linejoin="round">β</text>
<rect x="105.1" y="1762.4" width="9.8" height="2.6" fill="#000"/>
<text transform="translate(116.54,1771.25) scale(1.0604,1)" font-size="31.47" font-weight="bold" fill="#000"  stroke="#000" stroke-width="0.9" stroke-linejoin="round">tubulin</text>
<text transform="translate(873.86,1437.29) scale(1.1804,1)" font-size="22.83" font-weight="bold" fill="#000"  stroke="#000" stroke-width="0.3" stroke-linejoin="round">63kDa</text>
<line x1="855" y1="1429.5" x2="873.0" y2="1429.5" stroke="#000" stroke-width="3.6"/>
<text transform="translate(872.24,1539.82) scale(1.1334,1)" font-size="23.69" font-weight="bold" fill="#000"  stroke="#000" stroke-width="0.3" stroke-linejoin="round">48kDa</text>
<line x1="855" y1="1528.4" x2="870.6" y2="1528.4" stroke="#000" stroke-width="3.6"/>
<text transform="translate(873.63,1647.99) scale(1.1543,1)" font-size="23.24" font-weight="bold" fill="#000"  stroke="#000" stroke-width="0.3" stroke-linejoin="round">35kDa</text>
<line x1="855" y1="1640.0" x2="870.6" y2="1640.0" stroke="#000" stroke-width="3.6"/>
<text transform="translate(879.24,1759.83) scale(1.1479,1)" font-size="23.01" font-weight="bold" fill="#000"  stroke="#000" stroke-width="0.3" stroke-linejoin="round">55kDa</text>
<line x1="855" y1="1752.6" x2="874.1" y2="1752.6" stroke="#000" stroke-width="3.6"/>
</svg>
</body></html>
